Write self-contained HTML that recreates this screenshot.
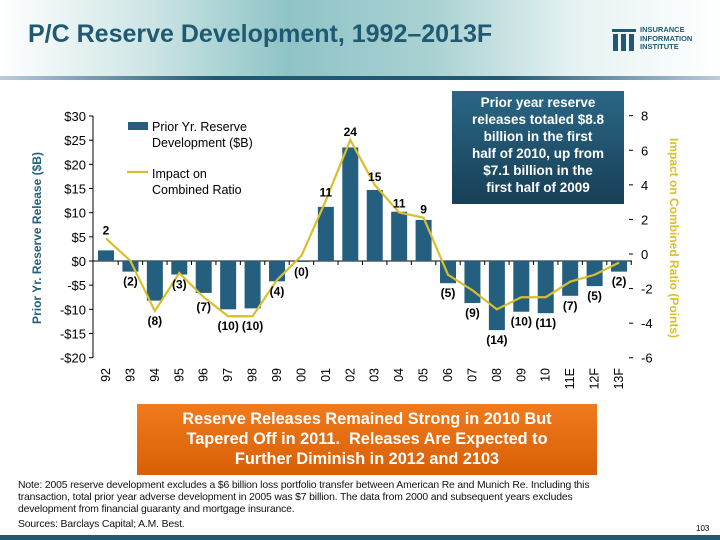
<!DOCTYPE html>
<html><head><meta charset="utf-8"><style>
body{margin:0;width:720px;height:540px;overflow:hidden;background:#fff;font-family:"Liberation Sans",sans-serif;position:relative}
.hdr{position:absolute;left:0;top:0;width:720px;height:78px;background:linear-gradient(90deg,#fff 0%,#cfe6e6 20%,#8fc4c6 40%,#a9d1d2 60%,#e6f2f2 80%,#fff 100%)}
.rule{position:absolute;left:0;top:76px;width:720px;height:4px;background:linear-gradient(90deg,#bcd 0%,#1f5a72 30%,#1f5a72 70%,#bcd 100%)}
.title{position:absolute;left:28px;top:20px;font-size:25px;font-weight:bold;color:#1f5a72}
.logo{position:absolute;left:610px;top:27px}
.lt{position:absolute;left:640px;top:26px;font-size:7.5px;font-weight:bold;color:#1f5a72;line-height:8.5px}
.ann{position:absolute;left:452px;top:91px;width:172px;height:113px;background:linear-gradient(#2a6785,#173f57);color:#fff;font-weight:bold;font-size:13.5px;line-height:17px;text-align:center;padding-top:3px;box-sizing:border-box;white-space:nowrap}
.org{position:absolute;left:137px;top:404px;width:460px;height:71px;background:linear-gradient(#f07a1c,#d85f06);color:#fff;font-weight:bold;font-size:16.3px;line-height:20px;text-align:center;padding-top:5px;box-sizing:border-box;white-space:nowrap}
.note{position:absolute;left:18px;top:480px;font-size:10.4px;line-height:12px;color:#111;width:690px;white-space:nowrap;letter-spacing:-0.15px}
.pg{position:absolute;left:696px;top:524px;font-size:8px}
.bot{position:absolute;left:0;top:535px;width:720px;height:5px;background:#1f5a72}
</style></head><body>
<div class="hdr"></div>
<div class="rule"></div>
<div class="title">P/C Reserve Development, 1992–2013F</div>
<svg class="logo" width="28" height="26"><g fill="#1f5a72"><rect x="2" y="2" width="24" height="3"/><rect x="3" y="7" width="5" height="17"/><rect x="11" y="7" width="5" height="17"/><rect x="19" y="7" width="5" height="17"/></g></svg>
<div class="lt">INSURANCE<br>INFORMATION<br>INSTITUTE</div>
<svg id="ch" width="720" height="540" style="position:absolute;left:0;top:0"></svg>
<div class="ann">Prior year reserve<br>releases totaled $8.8<br>billion in the first<br>half of 2010, up from<br>$7.1 billion in the<br>first half of 2009</div>
<div class="org">Reserve Releases Remained Strong in 2010 But<br>Tapered Off in 2011.&nbsp; Releases Are Expected to<br>Further Diminish in 2012 and 2103</div>
<div class="note">Note: 2005 reserve development excludes a $6 billion loss portfolio transfer between American Re and Munich Re. Including this<br>transaction, total prior year adverse development in 2005 was $7 billion. The data from 2000 and subsequent years excludes<br>development from financial guaranty and mortgage insurance.<div style="margin-top:3px">Sources: Barclays Capital; A.M. Best.</div></div>
<div class="pg">103</div>
<div class="bot"></div>
<script>
const categories=["92","93","94","95","96","97","98","99","00","01","02","03","04","05","06","07","08","09","10","11E","12F","13F"];
const reserves=[2.2,-2.2,-8.2,-2.8,-6.6,-10,-9.8,-4.2,-0.2,11.2,23.5,14.7,10.2,8.5,-4.6,-8.7,-14.3,-10.5,-10.8,-7.2,-5.2,-2.2];
const barLabels=["2","(2)","(8)","(3)","(7)","(10)","(10)","(4)","(0)","11","24","15","11","9","(5)","(9)","(14)","(10)","(11)","(7)","(5)","(2)"];
const ratioImpact=[0.9,-0.4,-3.3,-1.1,-2.5,-3.6,-3.6,-1.5,-0.1,3.1,6.6,4.0,2.4,2.1,-1.2,-2.1,-3.2,-2.5,-2.5,-1.6,-1.2,-0.5];
const leftTicks=[30,25,20,15,10,5,0,-5,-10,-15,-20];
const rightTicks=[8,6,4,2,0,-2,-4,-6];
const NS="http://www.w3.org/2000/svg",svg=document.getElementById('ch');
const yL=v=>261-v*4.833, yR=v=>254-v*17.29, xC=i=>106+i*24.43;
function mk(t,a,txt){const e=document.createElementNS(NS,t);for(const k in a)e.setAttribute(k,a[k]);if(txt!==undefined)e.textContent=txt;svg.appendChild(e);return e;}
let e;
e=mk('line',{x1:93,y1:116,x2:93,y2:358,stroke:'#000','stroke-width':1});

leftTicks.forEach(v=>{const y=yL(v);
 e=mk('line',{x1:89,y1:y,x2:93,y2:y,stroke:'#000'});
 e=mk('text',{x:86,y:y+5,'text-anchor':'end','font-size':13,fill:'#000'},(v<0?'-$':'$')+Math.abs(v));
 });
rightTicks.forEach(v=>{const y=yR(v);
 e=mk('line',{x1:629,y1:y,x2:633,y2:y,stroke:'#000'});
 e=mk('text',{x:641,y:y+5,'font-size':13,fill:'#000'},v<0?'-'+Math.abs(v):String(v));
 });
e=mk('line',{x1:93,y1:yL(0),x2:632,y2:yL(0),stroke:'#000'});
categories.forEach((c,i)=>{const x=xC(i),v=reserves[i];
 e=mk('line',{x1:x+12.2,y1:yL(0),x2:x+12.2,y2:yL(0)+4,stroke:'#000'});
 e=mk('rect',{x:x-8,y:Math.min(yL(v),yL(0)),width:16,height:Math.abs(yL(v)-yL(0)),fill:'#255f80'});
 
 e=mk('text',{x:x+4,y:368,'text-anchor':'end','font-size':12.5,transform:`rotate(-90 ${x+4} 368)`},c);
 });
let d='';ratioImpact.forEach((v,i)=>{d+=(i?'L':'M')+xC(i)+' '+yR(v);});
e=mk('path',{d:d,fill:'none',stroke:'#d9bf2b','stroke-width':2.2});
barLabels.forEach((t,i)=>{const v=reserves[i];let y;
 if(v>=0)y=Math.min(yL(v),yR(ratioImpact[i]))-4;else y=Math.max(yL(v),yR(ratioImpact[i]))+14;
 e=mk('text',{x:xC(i),y:y,'text-anchor':'middle','font-size':12,'font-weight':'bold',fill:'#000'},t);
 });
e=mk('text',{x:0,y:0,transform:'translate(41,238) rotate(-90)','text-anchor':'middle','font-size':12,'font-weight':'bold',fill:'#255f80'},'Prior Yr. Reserve Release ($B)');

e=mk('text',{x:0,y:0,transform:'translate(670,238) rotate(90)','text-anchor':'middle','font-size':12,'font-weight':'bold',fill:'#d9bf2b'},'Impact on Combined Ratio (Points)');

e=mk('rect',{x:128,y:122,width:20,height:8,fill:'#255f80'});
e=mk('text',{x:152,y:131,'font-size':12.5},'Prior Yr. Reserve');
e=mk('text',{x:152,y:147,'font-size':12.5},'Development ($B)');
e=mk('line',{x1:127,y1:172,x2:148,y2:172,stroke:'#d9bf2b','stroke-width':2.2});
e=mk('text',{x:152,y:178,'font-size':12.5},'Impact on');
e=mk('text',{x:152,y:194,'font-size':12.5},'Combined Ratio');
</script>
</body></html>
